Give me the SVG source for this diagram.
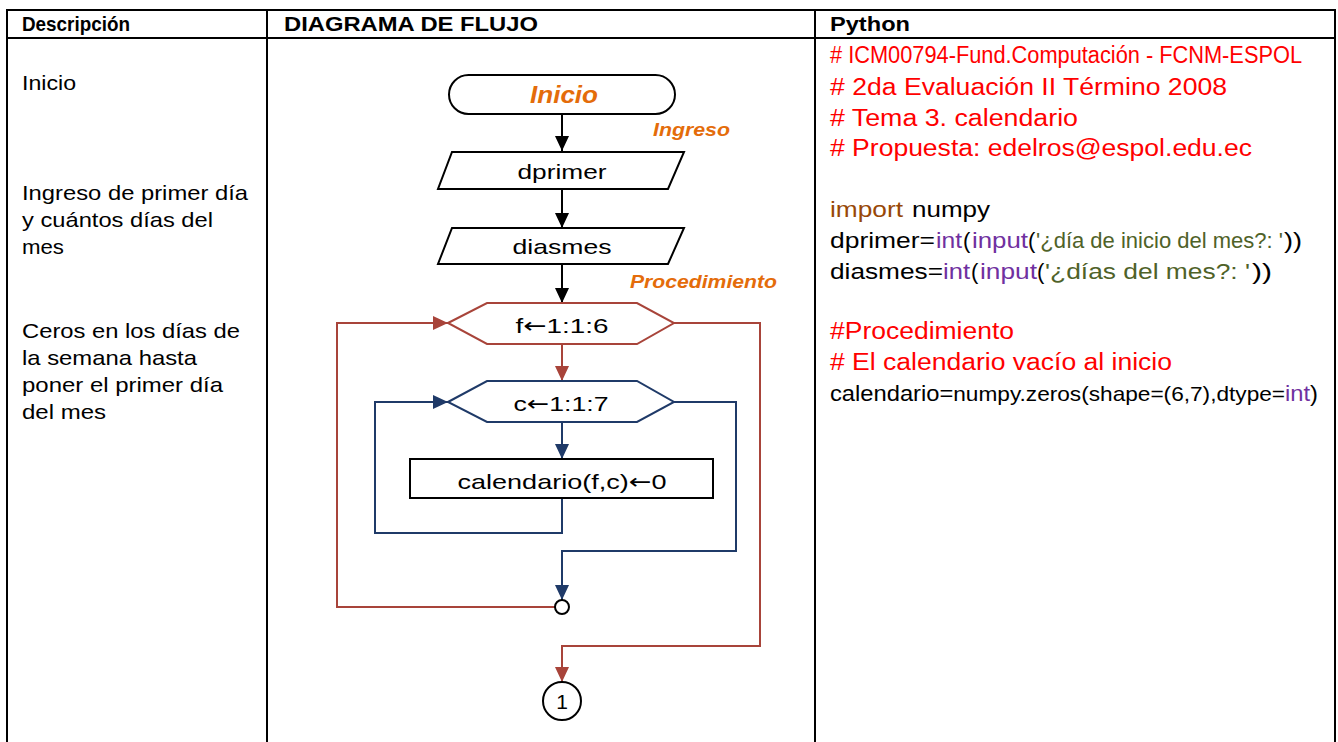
<svg xmlns="http://www.w3.org/2000/svg" width="1338" height="742" viewBox="0 0 1338 742">
<style>
text{font-family:"Liberation Sans",Arial,sans-serif;}
.hd{font-size:21px;font-weight:bold;fill:#000;}
.ds{font-size:21px;fill:#000;}
.cm{font-size:23px;fill:#FF0000;}
.cd{font-size:22px;fill:#000;}
.pu{fill:#7030A0;}
.gr{fill:#4F6228;}
.br{fill:#984807;}
.or{font-weight:bold;font-style:italic;fill:#E46C0A;}
.fl{font-size:21px;fill:#000;text-anchor:middle;}
.arw{font-family:"DejaVu Sans",sans-serif;}
.tbl{stroke:#000;stroke-width:2;fill:none;}
.shp{stroke:#000;stroke-width:2;fill:#fff;}
.k{stroke:#000;stroke-width:2;fill:none;}
.r{stroke:#A8443A;stroke-width:2;fill:none;}
.b{stroke:#1F3A68;stroke-width:2;fill:none;}
</style>
<defs>
<marker id="ak" markerUnits="userSpaceOnUse" markerWidth="15" markerHeight="14" refX="15" refY="7" orient="auto" viewBox="0 0 15 14"><path d="M0,0 L15,7 L0,14 z" fill="#000"/></marker>
<marker id="ar" markerUnits="userSpaceOnUse" markerWidth="15" markerHeight="14" refX="15" refY="7" orient="auto" viewBox="0 0 15 14"><path d="M0,0 L15,7 L0,14 z" fill="#A8443A"/></marker>
<marker id="ab" markerUnits="userSpaceOnUse" markerWidth="15" markerHeight="14" refX="15" refY="7" orient="auto" viewBox="0 0 15 14"><path d="M0,0 L15,7 L0,14 z" fill="#1F3A68"/></marker>
</defs>
<rect width="1338" height="742" fill="#fff"/>
<g id="table">
<path class="tbl" d="M7,10 H1335 M7,38 H1335 M7,9 V742 M267,10 V742 M815,10 V742 M1335,9 V742"/>
<text class="hd" x="22" y="31" textLength="108" lengthAdjust="spacingAndGlyphs">Descripción</text>
<text class="hd" x="284" y="31" textLength="254" lengthAdjust="spacingAndGlyphs">DIAGRAMA DE FLUJO</text>
<text class="hd" x="830" y="31" textLength="80" lengthAdjust="spacingAndGlyphs">Python</text>
</g>
<g id="descripcion">
<text class="ds" x="22" y="90" textLength="54" lengthAdjust="spacingAndGlyphs">Inicio</text>
<text class="ds" x="22" y="200" textLength="226" lengthAdjust="spacingAndGlyphs">Ingreso de primer día</text>
<text class="ds" x="22" y="227" textLength="191" lengthAdjust="spacingAndGlyphs">y cuántos días del</text>
<text class="ds" x="22" y="254" textLength="42" lengthAdjust="spacingAndGlyphs">mes</text>
<text class="ds" x="22" y="338" textLength="218" lengthAdjust="spacingAndGlyphs">Ceros en los días de</text>
<text class="ds" x="22" y="365" textLength="175" lengthAdjust="spacingAndGlyphs">la semana hasta</text>
<text class="ds" x="22" y="392" textLength="201" lengthAdjust="spacingAndGlyphs">poner el primer día</text>
<text class="ds" x="22" y="419" textLength="84" lengthAdjust="spacingAndGlyphs">del mes</text>
</g>
<g id="python">
<text class="cm" x="830" y="63" font-size="21" textLength="472" lengthAdjust="spacingAndGlyphs"># ICM00794-Fund.Computación - FCNM-ESPOL</text>
<text class="cm" x="830" y="95" textLength="397" lengthAdjust="spacingAndGlyphs"># 2da Evaluación II Término 2008</text>
<text class="cm" x="830" y="126" textLength="248" lengthAdjust="spacingAndGlyphs"># Tema 3. calendario</text>
<text class="cm" x="830" y="156" textLength="422" lengthAdjust="spacingAndGlyphs"># Propuesta: edelros@espol.edu.ec</text>
<text class="cd br" x="830" y="217" textLength="73" lengthAdjust="spacingAndGlyphs">import</text>
<text class="cd" x="912" y="217" textLength="78" lengthAdjust="spacingAndGlyphs">numpy</text>
<text class="cd" x="830" y="248" textLength="105" lengthAdjust="spacingAndGlyphs">dprimer=</text>
<text class="cd pu" x="936" y="248" textLength="26" lengthAdjust="spacingAndGlyphs">int</text>
<text class="cd" x="963" y="248">(</text>
<text class="cd pu" x="972" y="248" textLength="56" lengthAdjust="spacingAndGlyphs">input</text>
<text class="cd" x="1028" y="248">(</text>
<text class="cd gr" x="1036" y="248" textLength="247" lengthAdjust="spacingAndGlyphs">'¿día de inicio del mes?: '</text>
<text class="cd" x="1284" y="248" textLength="18" lengthAdjust="spacingAndGlyphs">))</text>
<text class="cd" x="830" y="279" textLength="113" lengthAdjust="spacingAndGlyphs">diasmes=</text>
<text class="cd pu" x="943" y="279" textLength="27" lengthAdjust="spacingAndGlyphs">int</text>
<text class="cd" x="971" y="279">(</text>
<text class="cd pu" x="980" y="279" textLength="57" lengthAdjust="spacingAndGlyphs">input</text>
<text class="cd" x="1037" y="279">(</text>
<text class="cd gr" x="1045" y="279" textLength="205" lengthAdjust="spacingAndGlyphs">'¿días del mes?: '</text>
<text class="cd" x="1252" y="279" textLength="20" lengthAdjust="spacingAndGlyphs">))</text>
<text class="cm" x="830" y="339" textLength="184" lengthAdjust="spacingAndGlyphs">#Procedimiento</text>
<text class="cm" x="830" y="370" textLength="342" lengthAdjust="spacingAndGlyphs"># El calendario vacío al inicio</text>
<text class="cd" x="830" y="401" textLength="488" lengthAdjust="spacingAndGlyphs">calendario=<tspan font-size="21">numpy.zeros(shape=(6,7),dtype=</tspan><tspan class="pu">int</tspan>)</text>
</g>
<g id="connectors">
<path class="k" d="M562,114 V151" marker-end="url(#ak)"/>
<path class="k" d="M562,189 V228" marker-end="url(#ak)"/>
<path class="k" d="M562,264 V303" marker-end="url(#ak)"/>
<path class="r" d="M562,344 V381" marker-end="url(#ar)"/>
<path class="r" d="M674,323 H760 V646 H562 V682" marker-end="url(#ar)"/>
<path class="r" d="M555,607 H337 V323 H448" marker-end="url(#ar)"/>
<path class="b" d="M562,422 V459" marker-end="url(#ab)"/>
<path class="b" d="M562,498 V533 H375 V402 H448" marker-end="url(#ab)"/>
<path class="b" d="M674,402 H736 V551 H562 V600" marker-end="url(#ab)"/>
</g>
<g id="lbl-ingreso"><text class="or" x="653" y="136" font-size="18" textLength="77" lengthAdjust="spacingAndGlyphs">Ingreso</text></g>
<g id="lbl-procedimiento"><text class="or" x="630" y="288" font-size="18" textLength="147" lengthAdjust="spacingAndGlyphs">Procedimiento</text></g>
<g id="n-inicio">
<rect class="shp" x="449" y="75" width="226" height="39" rx="19.5"/>
<text class="or" x="530" y="103" font-size="23" textLength="68" lengthAdjust="spacingAndGlyphs">Inicio</text>
</g>
<g id="n-dprimer">
<polygon class="shp" points="452,152 684,152 668,189 438,189"/>
<text class="fl" x="562" y="179" textLength="89" lengthAdjust="spacingAndGlyphs">dprimer</text>
</g>
<g id="n-diasmes">
<polygon class="shp" points="452,228 684,228 668,264 438,264"/>
<text class="fl" x="562" y="254" textLength="99" lengthAdjust="spacingAndGlyphs">diasmes</text>
</g>
<g id="n-f">
<polygon class="r" fill="#fff" points="448,323 487,303 637,303 674,323 637,344 487,344"/>
<text class="fl" x="562" y="333" textLength="93" lengthAdjust="spacingAndGlyphs">f<tspan class="arw">←</tspan>1:1:6</text>
</g>
<g id="n-c">
<polygon class="b" fill="#fff" points="448,402 487,381 637,381 674,402 637,422 487,422"/>
<text class="fl" x="561" y="411" textLength="95" lengthAdjust="spacingAndGlyphs">c<tspan class="arw">←</tspan>1:1:7</text>
</g>
<g id="n-asig">
<rect class="shp" x="410" y="459" width="303" height="39"/>
<text class="fl" x="562" y="489" textLength="209" lengthAdjust="spacingAndGlyphs">calendario(f,c)<tspan class="arw">←</tspan>0</text>
</g>
<g id="n-junta">
<circle class="shp" cx="562" cy="607" r="7"/>
</g>
<g id="n-conector1">
<circle class="shp" cx="562" cy="701" r="19"/>
<text class="fl" x="562" y="709" font-size="20">1</text>
</g>
</svg>
